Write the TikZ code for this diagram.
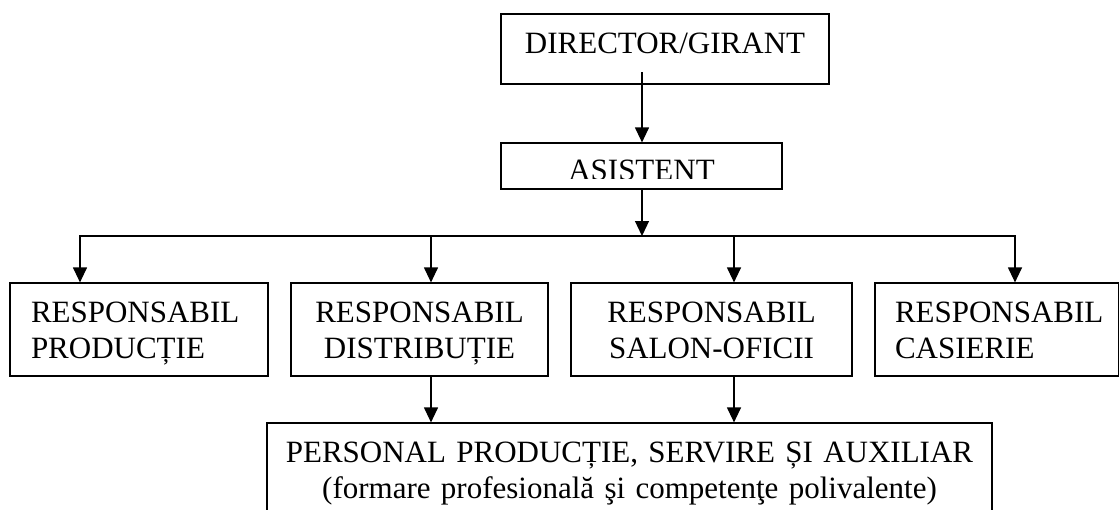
\documentclass[tikz,border=0pt]{standalone}
\usepackage{fontspec}
\setmainfont{Liberation Serif}
\usetikzlibrary{arrows.meta}

\begin{document}
\begin{tikzpicture}[x=1pt,y=-1pt,
    box/.style={draw,line width=1.2pt,rectangle,inner ysep=0pt,anchor=base,
      font=\fontsize{31}{36}\selectfont},
    resp/.style={box,text height=39pt,text depth=54pt},
    arr/.style={line width=1.2pt,-{Triangle[width=14pt,length=15pt]}}]
    \useasboundingbox (0,0) rectangle (1119,509);
    \node[box,inner xsep=0pt,minimum width=328pt,text height=39pt,text depth=31pt] (dir) at (665,53) {DIRECTOR/GIRANT};
    \node[box,inner xsep=0pt,minimum width=281pt,text height=37pt,text depth=9pt] (asis) at (641.5,180) {ASISTENT};
    \fill[white] (502.5,178.5) rectangle (780.5,188.2);
    \node[resp,inner xsep=21pt,text width=216pt,align=left] (b1) at (139,322) {RESPONSABIL\\PRODUCȚIE};
    \node[resp,inner xsep=5pt,text width=247pt,align=center] (b2) at (419.5,322) {RESPONSABIL\\DISTRIBUȚIE};
    \node[resp,inner xsep=5pt,text width=271pt,align=center] (b3) at (711.5,322) {RESPONSABIL\\SALON-OFICII};
    \node[resp,inner xsep=20pt,text width=204pt,align=left] (b4) at (997,322) {RESPONSABIL\\CASIERIE};
    \node[box,inner xsep=5pt,text width=715pt,align=center,text height=39pt,text depth=68pt] (pers) at (629.5,462) {PERSONAL PRODUCȚIE, SERVIRE ȘI AUXILIAR\\(formare profesională şi competenţe polivalente)};
    \coordinate (top) at (642,72);
    \coordinate (bus) at (642,236);
    \coordinate (t1) at (80,236);
    \coordinate (t2) at (431,236);
    \coordinate (t3) at (734,236);
    \coordinate (t4) at (1015,236);
    \draw[arr] (top) -- (top |- asis.north);
    \draw[arr] (asis.south -| bus) -- (bus);
    \draw[line width=1.2pt,line cap=rect] (t1) -- (t4);
    \foreach \i in {1,...,4}
        \draw[arr] (t\i) -- (t\i |- b\i.north);
    \draw[arr] (t2 |- b2.south) -- (t2 |- pers.north);
    \draw[arr] (t3 |- b3.south) -- (t3 |- pers.north);
\end{tikzpicture}
\end{document}
